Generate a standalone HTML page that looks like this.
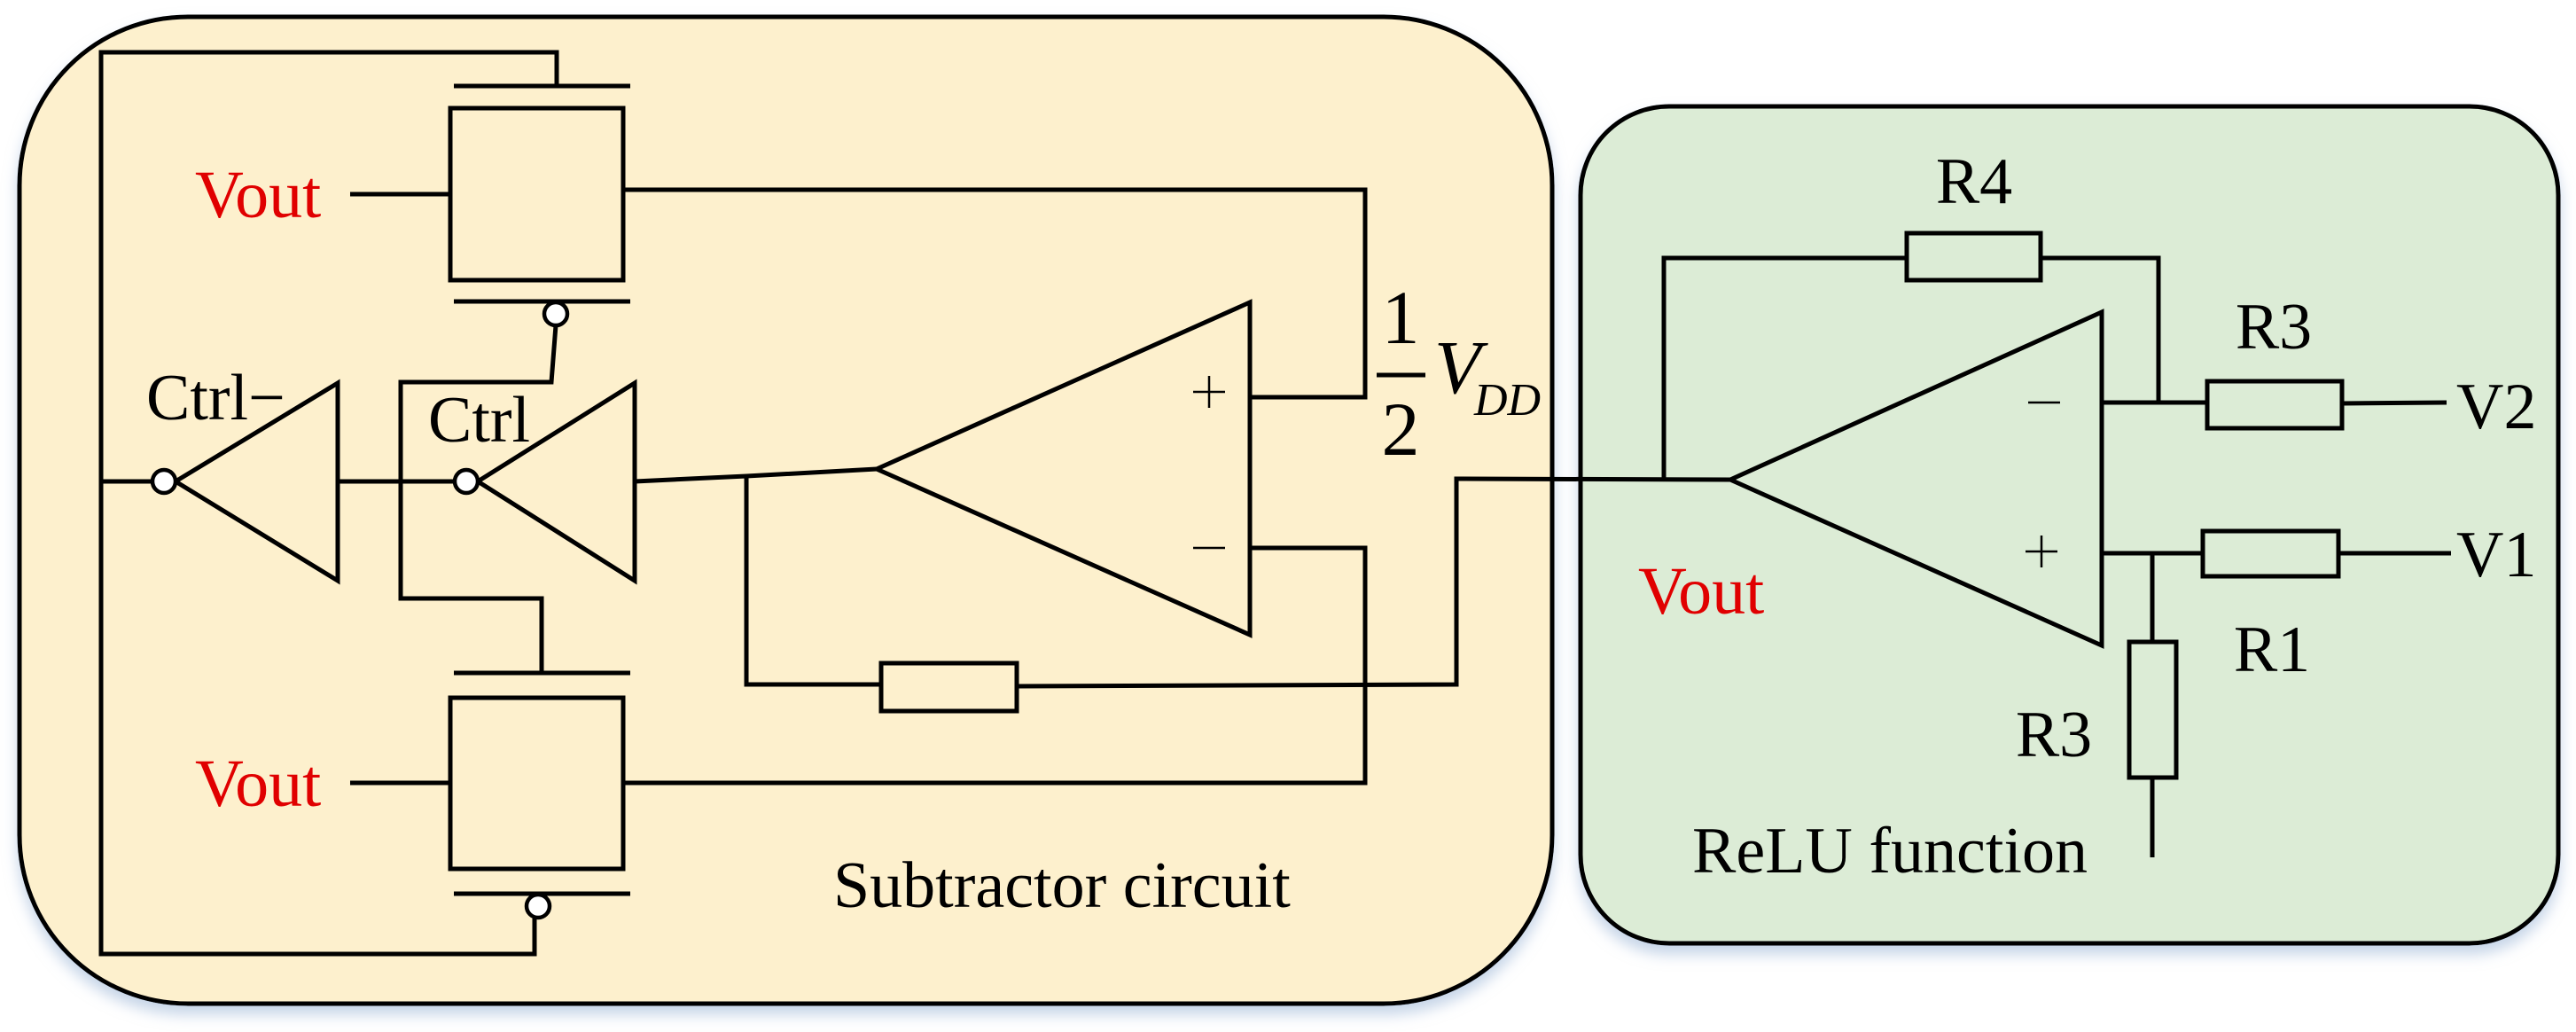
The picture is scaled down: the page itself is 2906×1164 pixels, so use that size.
<!DOCTYPE html>
<html><head><meta charset="utf-8"><style>
html,body{margin:0;padding:0;background:#fff;}
svg{display:block;}
</style></head><body>
<svg width="2906" height="1164" viewBox="0 0 2906 1164" xmlns="http://www.w3.org/2000/svg">
<defs>
<filter id="sh" x="-5%" y="-5%" width="110%" height="115%">
<feDropShadow dx="0" dy="10" stdDeviation="8" flood-color="#9fb7d8" flood-opacity="0.6"/>
</filter>
</defs>
<rect x="22" y="19" width="1729" height="1113" rx="190" ry="190" fill="#fdf0cd" stroke="#000" stroke-width="5" filter="url(#sh)"/>
<rect x="1783" y="120" width="1103" height="944" rx="100" ry="100" fill="#dcecd6" stroke="#000" stroke-width="5" filter="url(#sh)"/>

<g stroke="#000" stroke-width="5" fill="none">
<polyline points="628,97 628,59 114,59 114,1076 603,1076 603,1036"/>
<line x1="512" y1="97" x2="711" y2="97"/>
<rect x="508" y="122" width="195" height="194"/>
<line x1="512" y1="340" x2="711" y2="340"/>
<line x1="395" y1="219" x2="508" y2="219"/>
<polyline points="627,367 622,431 452,431 452,675 611,675 611,759"/>
<line x1="512" y1="759" x2="711" y2="759"/>
<rect x="508" y="787" width="195" height="193"/>
<line x1="512" y1="1008" x2="711" y2="1008"/>
<line x1="395" y1="883" x2="508" y2="883"/>
<line x1="114" y1="543" x2="172" y2="543"/>
<polygon points="198,543 381,432 381,655"/>
<line x1="381" y1="543" x2="512" y2="543"/>
<polygon points="539,543 716,432 716,655"/>
<polyline points="716,543 842,537 989,529"/>
<polygon points="989,529 1410,341 1410,716"/>
<polyline points="703,214 1540,214 1540,448 1410,448"/>
<polyline points="703,883 1540,883 1540,618 1410,618"/>
<polyline points="842,537 842,772 994,772"/>
<rect x="994" y="748" width="153" height="54"/>
<polyline points="1147,774 1643,772 1643,540 1952,541"/>
<polygon points="1952,541 2371,352 2371,728"/>
<polyline points="1877,541 1877,291 2151,291"/>
<rect x="2151" y="263" width="151" height="53"/>
<polyline points="2302,291 2435,291 2435,454"/>
<line x1="2371" y1="454" x2="2490" y2="454"/>
<rect x="2490" y="430" width="152" height="53"/>
<line x1="2642" y1="455" x2="2760" y2="454"/>
<line x1="2371" y1="624" x2="2485" y2="624"/>
<rect x="2485" y="599" width="153" height="51"/>
<line x1="2638" y1="624" x2="2765" y2="624"/>
<line x1="2428" y1="624" x2="2428" y2="724"/>
<rect x="2402" y="724" width="53" height="153"/>
<line x1="2428" y1="877" x2="2428" y2="967"/>
<line x1="1553" y1="423" x2="1608" y2="423"/>
</g>
<g stroke="#000" stroke-width="4.5" fill="#fff">
<circle cx="627" cy="354" r="13"/>
<circle cx="607" cy="1022" r="13"/>
<circle cx="185" cy="543" r="13"/>
<circle cx="526" cy="543" r="13"/>
</g>
<g stroke="#000" stroke-width="2.5">
<line x1="1346" y1="442" x2="1382" y2="442"/><line x1="1364" y1="424" x2="1364" y2="460"/>
<line x1="1346" y1="618" x2="1382" y2="618"/>
<line x1="2288" y1="454" x2="2324" y2="454"/>
<line x1="2285" y1="622" x2="2321" y2="622"/><line x1="2303" y1="604" x2="2303" y2="640"/>
</g>
<g font-family="'Liberation Serif', 'DejaVu Serif', serif">
<g font-size="76" fill="#e00000">
<text x="220" y="245">Vout</text>
<text x="220" y="909">Vout</text>
<text x="1848" y="692">Vout</text>
</g>
<g font-size="74" fill="#000">
<text x="165" y="473">Ctrl−</text>
<text x="483" y="498">Ctrl</text>
<text x="940" y="1023">Subtractor circuit</text>
<text x="1909" y="984">ReLU function</text>
<text x="2227" y="229" text-anchor="middle">R4</text>
<text x="2565" y="393" text-anchor="middle">R3</text>
<text x="2563" y="757" text-anchor="middle">R1</text>
<text x="2317" y="853" text-anchor="middle">R3</text>
<text x="2771" y="483">V2</text>
<text x="2771" y="650">V1</text>
<text x="1580" y="387" text-anchor="middle" font-size="86">1</text>
<text x="1580" y="513" text-anchor="middle" font-size="86">2</text>
<text x="1618" y="443" font-size="86" font-style="italic">V</text>
<text x="1663" y="468" font-size="52" font-style="italic">DD</text>
</g>
</g>
</svg>
</body></html>
